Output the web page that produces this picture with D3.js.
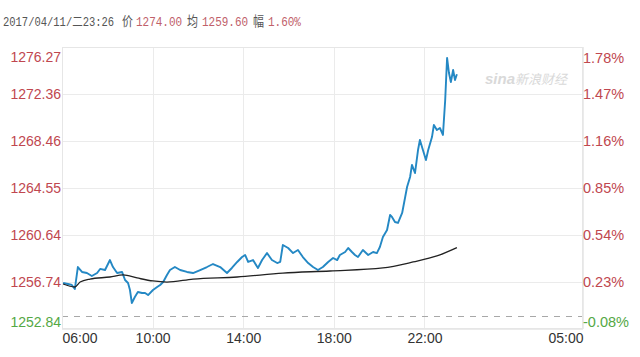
<!DOCTYPE html>
<html><head><meta charset="utf-8">
<script src="https://cdn.jsdelivr.net/npm/d3@7"></script>
<style>body{margin:0;background:#fff}svg{display:block}</style>
</head><body>
<svg id="c" width="640" height="357"></svg>
<script>
// ---- data ----
const priceTimes = ["06:03","06:16","06:26","06:34","06:42","06:53","07:06","07:19","07:33","07:41","07:54","08:07","08:15","08:26","08:39","08:47","08:55","09:00","09:05","09:13","09:21","09:32","09:40","09:48","10:01","10:12","10:20","10:28","10:38","10:46","10:59","11:13","11:31","11:47","12:06","12:24","12:40","12:59","13:17","13:30","13:44","13:57","14:05","14:13","14:26","14:39","14:50","15:03","15:16","15:30","15:38","15:45","15:59","16:12","16:25","16:38","16:52","17:05","17:18","17:31","17:45","17:58","18:09","18:16","18:30","18:38","18:48","18:56","19:04","19:17","19:31","19:44","19:54","20:02","20:10","20:21","20:29","20:34","20:42","20:50","21:01","21:09","21:14","21:22","21:27","21:35","21:43","21:48","21:56","22:04","22:10","22:20","22:25","22:33","22:41","22:49","22:55","22:57","23:00","23:05","23:10","23:16","23:21","23:26"];
const priceValues = [1256.66,1256.58,1256.50,1256.16,1257.99,1257.58,1257.49,1257.24,1257.49,1257.83,1257.74,1258.57,1257.99,1257.49,1257.58,1256.91,1256.66,1256.08,1255.00,1255.50,1255.91,1255.83,1255.83,1255.66,1256.08,1256.33,1256.50,1256.74,1257.33,1257.74,1257.99,1257.74,1257.58,1257.49,1257.74,1257.99,1258.24,1257.99,1257.49,1257.91,1258.41,1258.82,1258.99,1258.41,1258.57,1257.91,1258.57,1259.15,1258.57,1258.32,1258.41,1259.82,1259.57,1259.15,1259.40,1258.82,1258.32,1257.99,1257.74,1257.99,1258.41,1258.74,1258.57,1258.99,1259.24,1259.57,1259.24,1258.99,1258.82,1259.40,1258.99,1259.24,1259.15,1259.65,1260.48,1261.07,1262.31,1262.15,1261.73,1261.65,1262.48,1263.81,1264.64,1265.47,1266.47,1265.80,1267.71,1268.54,1267.71,1266.88,1267.71,1268.79,1269.79,1269.37,1269.54,1268.96,1271.87,1273.28,1275.36,1274.11,1273.36,1274.36,1273.53,1274.00];
const avgTimes = ["06:03","06:34","06:48","07:14","08:07","08:42","09:19","10:01","10:38","11:47","13:44","15:45","17:50","20:10","21:30","22:33","23:26"];
const avgValues = [1256.58,1256.33,1256.74,1256.99,1257.16,1257.33,1257.08,1256.83,1256.74,1256.99,1257.16,1257.49,1257.66,1257.91,1258.41,1258.91,1259.60];
const yTicks = [1252.84,1256.74,1260.64,1264.55,1268.46,1272.36,1276.27];
const pctTicks = ["-0.08%","0.23%","0.54%","0.85%","1.16%","1.47%","1.78%"];
const xTickLabels = ["06:00","10:00","14:00","18:00","22:00","05:00"];
const prevClose = 1253.94;
const header = {date:"2017/04/11/二23:26", priceLabel:"价", price:"1274.00", avgLabel:"均", avg:"1259.60", chgLabel:"幅", chg:"1.60%"};

// ---- helpers ----
function toMin(t){ const [h,m]=t.split(":").map(Number); let v=h*60+m; if(v<360) v+=1440; return v; }

const L=62, R=583, T=47, B=329;
const x = d3.scaleLinear().domain([toMin("06:00"), toMin("05:00")]).range([L,R]);
const y = d3.scaleLinear().domain([yTicks[0], yTicks[yTicks.length-1]]).range([B,T]);

const svg = d3.select("#c");
const red="#c0474f", green="#55a845", grid="#ebebeb";

// grid
const g = svg.append("g");
g.selectAll("line.h").data(yTicks).join("line")
  .attr("x1",L).attr("x2",R).attr("y1",d=>Math.round(y(d))+0.5).attr("y2",d=>Math.round(y(d))+0.5)
  .attr("stroke",grid).attr("stroke-width",1);
g.selectAll("line.v").data(xTickLabels).join("line")
  .attr("y1",T).attr("y2",B).attr("x1",d=>Math.round(x(toMin(d)))+0.5).attr("x2",d=>Math.round(x(toMin(d)))+0.5)
  .attr("stroke",grid).attr("stroke-width",1);

// previous close dashed line
svg.append("line").attr("x1",L).attr("x2",R).attr("y1",Math.round(y(prevClose))+0.5).attr("y2",Math.round(y(prevClose))+0.5)
  .attr("stroke","#a8a8a8").attr("stroke-width",1).attr("stroke-dasharray","6,6");

// watermark
const wm = svg.append("g").attr("fill","#d9d9d9").attr("font-style","italic");
wm.append("text").attr("x",485).attr("y",84).attr("font-family","Liberation Sans, Arial").attr("font-weight","bold").attr("font-size",15).text("sina");
wm.append("text").attr("x",515).attr("y",84).attr("font-family","Noto Sans CJK SC").attr("font-size",13).text("新浪财经");

// left axis
const la = svg.append("g").attr("transform",`translate(${L},0)`)
  .call(d3.axisLeft(y).tickValues(yTicks).tickSize(0).tickPadding(1).tickFormat(d3.format(".2f")));
la.select(".domain").remove();
la.selectAll("text").attr("font-family","Liberation Sans, Arial").attr("font-size",14)
  .attr("fill",(d,i)=>i===0?green:red)
  .attr("dy",(d,i)=>i===yTicks.length-1?"1.05em":(i===0?"-0.15em":"0.32em"));

// right axis
const ra = svg.append("g").attr("transform",`translate(${R},0)`)
  .call(d3.axisRight(y).tickValues(yTicks).tickSize(0).tickPadding(0).tickFormat((d,i)=>pctTicks[i]));
ra.select(".domain").remove();
ra.selectAll("text").attr("font-family","Liberation Sans, Arial").attr("font-size",14.5)
  .attr("fill",(d,i)=>i===0?green:red)
  .attr("dy",(d,i)=>i===yTicks.length-1?"1.05em":(i===0?"-0.15em":"0.32em"));

// bottom axis
const ba = svg.append("g").attr("transform",`translate(0,${B})`)
  .call(d3.axisBottom(x).tickValues(xTickLabels.map(toMin)).tickSize(0).tickPadding(4).tickFormat((d,i)=>xTickLabels[i]));
ba.select(".domain").remove();
ba.selectAll("text").attr("font-family","Liberation Sans, Arial").attr("font-size",14).attr("fill","#333")
  .attr("text-anchor",(d,i)=>i===0?"start":(i===xTickLabels.length-1?"end":"middle"));

// border
svg.append("rect").attr("x",L+0.5).attr("y",T+0.5).attr("width",R-L-1).attr("height",B-T-1)
  .attr("fill","none").attr("stroke","#e6e6e6");

// lines
const priceData = priceTimes.map((t,i)=>({t:toMin(t),v:priceValues[i]}));
const avgData = avgTimes.map((t,i)=>({t:toMin(t),v:avgValues[i]}));
svg.append("path").datum(priceData)
  .attr("d",d3.line().x(d=>x(d.t)).y(d=>y(d.v)))
  .attr("fill","none").attr("stroke","#2488c4").attr("stroke-width",1.9).attr("stroke-linejoin","round");
svg.append("path").datum(avgData)
  .attr("d",d3.line().curve(d3.curveMonotoneX).x(d=>x(d.t)).y(d=>y(d.v)))
  .attr("fill","none").attr("stroke","#222").attr("stroke-width",1.3);

// header
const hdr = [
  {s:header.date, x0:3, c:"#555", f:"Liberation Mono, Noto Sans CJK SC", fs:10.5},
  {s:header.priceLabel, x0:122, c:"#555", f:"Noto Sans CJK SC", fs:11},
  {s:header.price, x0:136, c:"#c0606a", f:"Liberation Mono", fs:11},
  {s:header.avgLabel, x0:187, c:"#555", f:"Noto Sans CJK SC", fs:11},
  {s:header.avg, x0:202, c:"#c0606a", f:"Liberation Mono", fs:11},
  {s:header.chgLabel, x0:253, c:"#555", f:"Noto Sans CJK SC", fs:11},
  {s:header.chg, x0:268, c:"#c0606a", f:"Liberation Mono", fs:11}
];
svg.append("g").attr("transform","translate(0,26) scale(1,1.2)")
  .selectAll("text").data(hdr).join("text")
  .attr("x",d=>d.x0).attr("y",0).attr("fill",d=>d.c)
  .attr("font-family",d=>d.f).attr("font-size",d=>d.fs)
  .text(d=>d.s);
</script>
</body></html>
